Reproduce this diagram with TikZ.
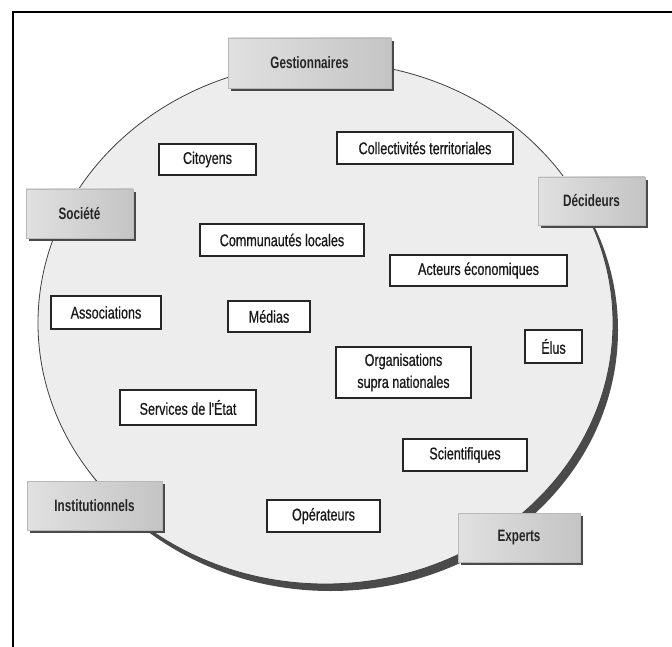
\documentclass[tikz,border=0pt]{standalone}
\usepackage{fontspec}
\newfontfamily\lab{Liberation Sans}[FakeStretch=0.74, FakeBold=0.6]
\newfontfamily\labh{Liberation Sans Bold}[FakeStretch=0.71]
\usetikzlibrary{shadows}
\definecolor{ellfill}{HTML}{EDEDED}
\definecolor{shadowc}{HTML}{4A4A4A}
\tikzset{
  header/.style={draw=gray!55, line width=0.4pt, left color=gray!24, right color=gray!46,
    inner sep=0pt, font=\labh\fontsize{16.5}{18}\selectfont, text=black!85,
    drop shadow={shadow xshift=3pt, shadow yshift=-3pt, fill=shadowc, opacity=1}},
  wbox/.style={draw=black!85, line width=1.1pt, fill=white, inner sep=0pt,
    font=\lab\fontsize{17}{22}\selectfont, text=black!90, align=center},
  frameline/.style={line width=2pt, black}
}
\begin{document}
\begin{tikzpicture}[x=1pt,y=-1pt]
\useasboundingbox (0,0) rectangle (672,647);
% frame
\draw[frameline] (13,647) -- (13,12) -- (672,12);
% circle with shadow
\fill[shadowc] (330.5,330) ellipse [x radius=287.5, y radius=261];
\draw[fill=ellfill, draw=black!75, line width=0.8pt] (325.5,323) ellipse [x radius=287.5, y radius=261];
% header boxes
\node[header, minimum width=163pt, minimum height=50pt] (gest) at (309.5,63) {Gestionnaires};
\node[header, minimum width=107pt, minimum height=49pt] (soc) at (79.5,213.5) {Société};
\node[header, minimum width=107pt, minimum height=48pt] (dec) at (591.5,201) {Décideurs};
\node[header, minimum width=135pt, minimum height=49pt] (inst) at (94.5,505.5) {Institutionnels};
\node[header, minimum width=122pt, minimum height=49pt] (exp) at (519,537.5) {Experts};
% white boxes
\node[wbox, minimum width=97pt, minimum height=31pt] (cit) at (207.5,159.5) {Citoyens};
\node[wbox, minimum width=176pt, minimum height=32pt] (coll) at (425,148) {Collectivités territoriales};
\node[wbox, minimum width=164pt, minimum height=32pt] (comm) at (282,240) {Communautés locales};
\node[wbox, minimum width=177pt, minimum height=31pt] (act) at (478.5,270.5) {Acteurs économiques};
\node[wbox, minimum width=110pt, minimum height=33pt] (asso) at (106,312.5) {Associations};
\node[wbox, minimum width=82pt, minimum height=31pt] (med) at (269,316.5) {Médias};
\node[wbox, minimum width=57pt, minimum height=33pt] (elus) at (553.5,346.5) {Élus};
\node[wbox, minimum width=135pt, minimum height=51pt] (orga) at (403.5,372.5) {Organisations\\supra nationales};
\node[wbox, minimum width=136pt, minimum height=35pt] (serv) at (188,407.5) {Services de l'État};
\node[wbox, minimum width=124pt, minimum height=32pt] (sci) at (465,455) {Scientifiques};
\node[wbox, minimum width=113pt, minimum height=32pt] (oper) at (323.5,516) {Opérateurs};
\end{tikzpicture}
\end{document}
